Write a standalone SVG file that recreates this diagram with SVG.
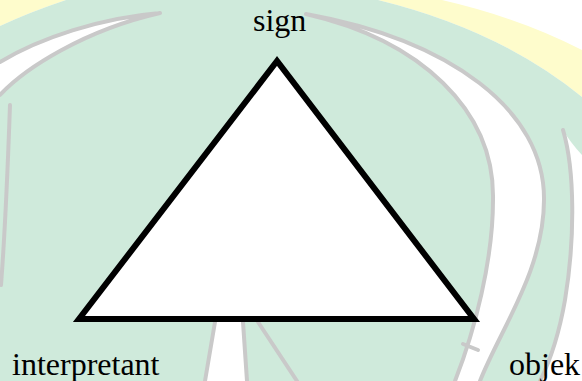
<svg xmlns="http://www.w3.org/2000/svg" width="582" height="381" viewBox="0 0 582 381">
  <style>
    .wm-grey { fill: none; stroke: #c9c9c9; stroke-width: 4; stroke-linecap: round; }
    .wm-white { fill: #ffffff; }
    .label { font-family: "Liberation Serif", "DejaVu Serif", serif; font-size: 32px; fill: #000000; }
    .edge { fill: #ffffff; stroke: #000000; stroke-width: 6; stroke-linejoin: miter; stroke-miterlimit: 10; }
  </style>
  <g id="watermark">
    <rect x="0" y="0" width="582" height="381" fill="#ffffff"/>
    <path d="M0,0 L66,0 Q30,12 0,26 Z" fill="#fefccc"/>
    <path d="M378,0 L442,0 Q520,18 582,50 L582,97 Q500,30 378,0 Z" fill="#fefccc"/>
    <path d="M0,26 Q30,12 66,0 L378,0 Q500,30 582,97 L582,381 L0,381 Z" fill="#cfeadb"/>
    <!-- left crescent -->
    <path class="wm-white" d="M160,13 C100,18 40,38 0,62 L0,95 C25,68 85,30 160,13 Z"/>
    <path class="wm-grey" d="M160,13 C100,18 40,38 0,62 M0,95 C25,68 85,30 160,13"/>
    <path class="wm-grey" d="M10,105 C8,160 6,220 1,285"/>
    <!-- right white band -->
    <path class="wm-white" d="M306,14 C450,40 545,110 544,200 C544,270 500,330 480,381 L455,381 C475,330 493,260 493,200 C495,110 420,40 306,14 Z"/>
    <path class="wm-grey" d="M306,14 C450,40 545,110 544,200 C544,270 500,330 480,381 M455,381 C475,330 493,260 493,200 C495,110 420,40 306,14"/>
    <path class="wm-grey" d="M478,350 L463,344"/>
    <!-- right crescent -->
    <path class="wm-white" d="M563,130 C575,170 575,240 565,300 C558,340 548,365 540,381 L582,381 L582,155 Q570,142 563,130 Z"/>
    <path class="wm-grey" d="M563,130 C575,170 575,240 565,300 C558,340 548,365 540,381"/>
    <!-- bottom centre strokes -->
    <path class="wm-white" d="M215,322 L243,322 L247,381 L205,381 Z"/>
    <path class="wm-grey" d="M215,322 L205,381 M243,322 L247,381 M258,322 L297,381"/>
  </g>
  <g id="connectors">
    <polygon class="edge" points="277,61 79,319 474,319"/>
  </g>
  <g id="node-sign">
    <text class="label" font-family="Liberation Serif, serif" x="253" y="31">sign</text>
  </g>
  <g id="node-interpretant">
    <text class="label" font-family="Liberation Serif, serif" x="12" y="375">interpretant</text>
  </g>
  <g id="node-objek">
    <text class="label" font-family="Liberation Serif, serif" x="509" y="375">objek</text>
  </g>
</svg>
